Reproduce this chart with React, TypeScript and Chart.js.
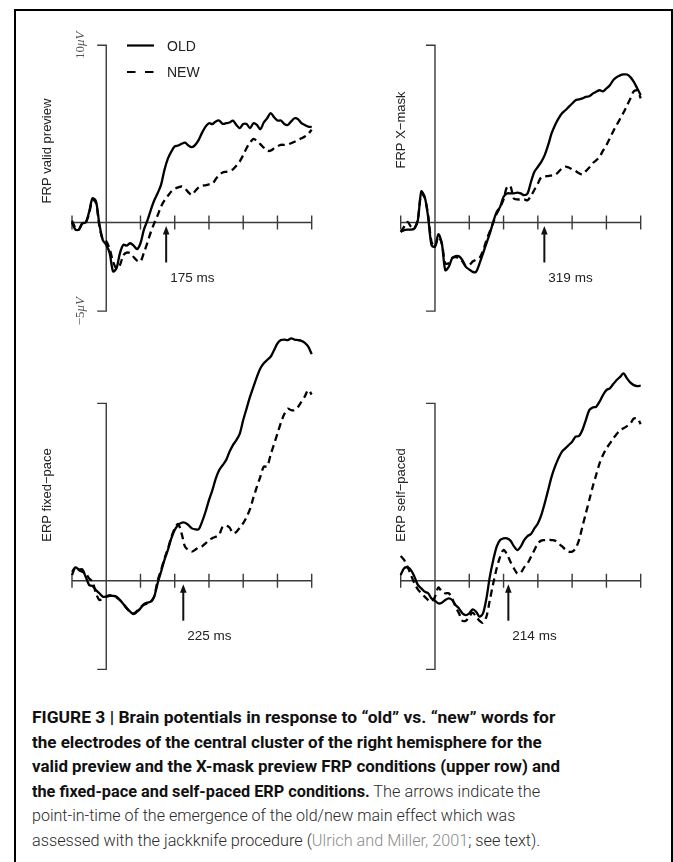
import React, { useEffect, useLayoutEffect, useRef } from "react";
import { Chart, registerables } from "chart.js";

Chart.register(...registerables);

// ---------- data ----------
const TIMES = [
  -100, -90, -80, -70, -60, -50, -40, -30, -20, -10,
  0, 10, 20, 30, 40, 50, 60, 70, 80, 90,
  100, 110, 120, 130, 140, 150, 160, 170, 180, 190,
  200, 210, 220, 230, 240, 250, 260, 270, 280, 290,
  300, 310, 320, 330, 340, 350, 360, 370, 380, 390,
  400, 410, 420, 430, 440, 450, 460, 470, 480, 490,
  500, 510, 520, 530, 540, 550, 560, 570, 580, 590,
  600,
];

const X_TICKS = [-100, 0, 100, 200, 300, 400, 500, 600];
const X_MIN = -100;
const X_MAX = 600;
const Y_AXIS_TOP = 10;
const Y_AXIS_BOTTOM = -5;
const Y_TOP_LABEL = "10";
const Y_BOTTOM_LABEL = "\u22125";
const Y_UNIT = "\u03bcV";

const SERIES_NAMES = ["OLD", "NEW"];
const PANEL_TITLES = ["FRP valid preview", "FRP X\u2212mask", "ERP fixed\u2212pace", "ERP self\u2212paced"];
const ONSETS = [175, 319, 225, 214];
const ONSET_LABELS = ["175 ms", "319 ms", "225 ms", "214 ms"];

const P1_OLD = [
  0.0, -0.4, -0.4, -0.05, 0.0, 0.6, 1.37, 1.2, -0.1, -1.0,
  -1.26, -1.73, -2.76, -2.58, -1.73, -1.26, -1.3, -1.17, -1.3, -1.5,
  -1.17, -0.4, 0.1, 0.7, 1.24, 1.65, 2.12, 2.97, 3.6, 4.0,
  4.29, 4.34, 4.44, 4.5, 4.34, 4.25, 4.38, 4.66, 5.07, 5.41,
  5.6, 5.55, 5.7, 5.75, 5.56, 5.6, 5.64, 5.75, 5.5, 5.32,
  5.55, 5.55, 5.32, 5.6, 5.5, 5.26, 5.64, 5.88, 6.17, 5.94,
  5.75, 5.75, 5.56, 5.5, 5.7, 5.88, 5.83, 5.6, 5.5, 5.41,
  5.38,
];
const P1_NEW = [
  0.1, -0.3, -0.4, -0.05, 0.0, 0.5, 1.3, 1.1, -0.2, -0.95,
  -1.05, -1.5, -2.2, -2.6, -2.4, -1.85, -1.7, -1.73, -1.95, -2.15,
  -2.2, -1.7, -1.15, -0.55, -0.05, 0.4, 0.9, 1.25, 1.5, 1.75,
  1.9, 1.98, 2.03, 1.92, 1.7, 1.56, 1.78, 1.98, 2.07, 2.1,
  2.15, 2.18, 2.45, 2.68, 2.82, 2.86, 2.9, 3.0, 3.2, 3.45,
  3.8, 4.2, 4.5, 4.72, 4.6, 4.42, 4.22, 4.05, 4.05, 4.18,
  4.3, 4.38, 4.38, 4.4, 4.47, 4.55, 4.66, 4.75, 4.85, 5.0,
  5.23,
];
const P2_OLD = [
  -0.53, -0.43, -0.4, -0.4, -0.34, 0.13, 1.75, 1.45, 0.3, -1.28,
  -1.37, -0.66, -1.18, -2.69, -2.5, -2.03, -1.9, -1.9, -2.12, -2.5,
  -2.65, -2.78, -2.78, -2.31, -1.75, -1.18, -0.62, 0.04, 0.6, 0.88,
  1.45, 1.64, 1.64, 1.64, 1.69, 1.64, 1.54, 1.64, 2.29, 2.86,
  3.14, 3.42, 3.8, 4.36, 5.02, 5.49, 5.86, 6.15, 6.33, 6.52,
  6.71, 6.9, 6.94, 7.0, 7.09, 7.12, 7.27, 7.37, 7.46, 7.4,
  7.56, 7.74, 8.03, 8.2, 8.3, 8.35, 8.35, 8.2, 7.93, 7.56,
  7.18,
];
const P2_NEW = [
  -0.53, -0.24, 0.04, -0.24, -0.34, 0.2, 1.6, 1.4, 0.4, -1.1,
  -1.35, -0.8, -1.2, -2.3, -2.3, -2.0, -1.95, -2.0, -2.2, -2.45,
  -2.4, -2.2, -2.1, -2.0, -1.6, -1.0, -0.5, 0.0, 0.5, 0.85,
  1.3, 2.0, 2.05, 1.35, 1.3, 1.3, 1.3, 1.25, 1.5, 1.85,
  2.2, 2.55, 2.6, 2.62, 2.65, 2.68, 2.85, 3.05, 3.15, 3.1,
  3.0, 2.9, 2.78, 2.72, 2.9, 3.1, 3.35, 3.5, 3.7, 4.05,
  4.36, 4.75, 5.15, 5.5, 5.85, 6.2, 6.6, 7.0, 7.4, 7.45,
  7.0,
];
const P3_OLD = [
  0.5, 0.75, 0.64, 0.64, 0.22, -0.24, -0.3, -0.53, -0.71, -0.9,
  -0.9, -0.86, -0.86, -0.9, -1.09, -1.32, -1.56, -1.75, -1.88, -1.75,
  -1.56, -1.32, -1.24, -1.18, -0.9, -0.15, 0.5, 1.17, 1.73, 2.39,
  2.86, 3.14, 3.27, 3.27, 3.14, 2.95, 2.9, 2.9, 3.33, 3.89,
  4.55, 5.11, 5.77, 6.24, 6.52, 6.8, 7.27, 7.65, 7.93, 8.3,
  9.06, 9.72, 10.38, 10.94, 11.5, 11.97, 12.26, 12.45, 12.63, 13.0,
  13.38, 13.57, 13.6, 13.57, 13.67, 13.6, 13.57, 13.53, 13.42, 13.2,
  12.78,
];
const P3_NEW = [
  0.32, 0.75, 0.6, 0.5, 0.41, 0.13, -0.06, -0.71, -1.09, -1.0,
  -0.9, -0.81, -0.9, -0.95, -1.1, -1.3, -1.55, -1.75, -1.85, -1.7,
  -1.5, -1.35, -1.3, -1.2, -0.9, 0.0, 0.6, 1.25, 1.8, 2.45,
  2.95, 3.2, 2.67, 1.92, 1.73, 1.64, 1.75, 1.88, 1.95, 2.1,
  2.3, 2.4, 2.48, 2.6, 3.05, 3.1, 3.0, 2.68, 2.75, 3.0,
  3.25, 3.6, 4.05, 4.7, 5.3, 5.86, 6.43, 6.45, 7.1, 7.7,
  8.3, 8.9, 9.4, 9.7, 9.62, 9.62, 9.8, 10.1, 10.4, 10.75,
  10.5,
];
const P4_OLD = [
  0.32, 0.7, 0.75, 0.6, 0.23, -0.24, -0.43, -0.62, -0.71, -1.0,
  -1.13, -1.28, -1.24, -1.09, -1.0, -1.09, -1.37, -1.56, -1.84, -1.94,
  -1.84, -1.62, -1.75, -2.03, -1.84, -1.0, 0.23, 1.17, 1.92, 2.29,
  2.39, 2.39, 2.26, 1.95, 1.73, 1.92, 2.29, 2.52, 2.63, 2.95,
  3.23, 3.7, 4.36, 5.11, 5.86, 6.43, 6.9, 7.27, 7.46, 7.65,
  7.84, 8.12, 8.16, 8.5, 9.06, 9.62, 9.77, 9.81, 10.1, 10.47,
  10.75, 10.85, 11.09, 11.32, 11.5, 11.69, 11.41, 11.17, 11.03, 10.98,
  11.0,
];
const P4_NEW = [
  1.39, 1.17, 0.79, 0.32, -0.15, -0.49, -0.71, -0.9, -1.09, -1.18,
  -0.9, -0.38, -0.62, -0.71, -0.71, -1.0, -1.47, -1.84, -2.26, -2.26,
  -2.03, -1.8, -2.03, -2.26, -2.37, -2.03, -1.09, -0.15, 0.7, 1.35,
  1.73, 1.5, 1.07, 0.7, 0.41, 0.45, 0.75, 0.98, 1.35, 1.73,
  2.1, 2.26, 2.29, 2.33, 2.29, 2.26, 2.1, 1.95, 1.77, 1.64,
  1.64, 1.82, 2.29, 3.05, 3.8, 4.55, 5.3, 5.96, 6.62, 7.09,
  7.46, 7.74, 8.03, 8.27, 8.5, 8.6, 8.72, 8.87, 9.15, 9.15,
  8.83,
];

// ---------- caption text ----------
const CAPTION: [string, string][][] = [
  [["b", "FIGURE 3 | Brain potentials in response to \u201cold\u201d vs. \u201cnew\u201d words for"]],
  [["b", "the electrodes of the central cluster of the right hemisphere for the"]],
  [["b", "valid preview and the X-mask preview FRP conditions (upper row) and"]],
  [["b", "the fixed-pace and self-paced ERP conditions."], ["r", " The arrows indicate the"]],
  [["r", "point-in-time of the emergence of the old/new main effect which was"]],
  [["r", "assessed with the jackknife procedure ("], ["g", "Ulrich and Miller, 2001"], ["r", "; see text)."]],
];
const CAPTION_WIDTHS = [523, 510, 528, 508, 483, 508];

// ---------- layout ----------
const PX_PER_UV = 17.73;
const SANS = "'Liberation Sans', Arial, sans-serif";
const SERIF = "'Liberation Serif', 'DejaVu Serif', serif";

type PanelCfg = {
  title: string;
  oldV: number[];
  newV: number[];
  onset: number;
  onsetLabel: string;
  box: { l: number; t: number; w: number; h: number };
  plotL: number;
  plotR: number;
  zeroY: number;
  yMin: number;
  yMax: number;
  titleX: number;
  titleY: number;
  legend: boolean;
  units: boolean;
};

const PANELS: PanelCfg[] = [
  {
    title: PANEL_TITLES[0], oldV: P1_OLD, newV: P1_NEW, onset: ONSETS[0], onsetLabel: ONSET_LABELS[0],
    box: { l: 16, t: 11, w: 322, h: 320 }, plotL: 72, plotR: 311.7, zeroY: 222.5, yMin: -5, yMax: 10,
    titleX: 46, titleY: 151, legend: true, units: true,
  },
  {
    title: PANEL_TITLES[1], oldV: P2_OLD, newV: P2_NEW, onset: ONSETS[1], onsetLabel: ONSET_LABELS[1],
    box: { l: 340, t: 11, w: 330, h: 320 }, plotL: 400.7, plotR: 640.7, zeroY: 222.5, yMin: -5, yMax: 10,
    titleX: 400, titleY: 130, legend: false, units: false,
  },
  {
    title: PANEL_TITLES[2], oldV: P3_OLD, newV: P3_NEW, onset: ONSETS[2], onsetLabel: ONSET_LABELS[2],
    box: { l: 16, t: 331, w: 322, h: 360 }, plotL: 72, plotR: 311.7, zeroY: 580.7, yMin: -5, yMax: 14,
    titleX: 46, titleY: 495, legend: false, units: false,
  },
  {
    title: PANEL_TITLES[3], oldV: P4_OLD, newV: P4_NEW, onset: ONSETS[3], onsetLabel: ONSET_LABELS[3],
    box: { l: 340, t: 331, w: 330, h: 360 }, plotL: 400.7, plotR: 640.7, zeroY: 580.7, yMin: -5, yMax: 14,
    titleX: 400, titleY: 495, legend: false, units: false,
  },
];

function drawRotated(ctx: CanvasRenderingContext2D, parts: { text: string; font: string }[], cx: number, cy: number, color: string, capH: number) {
  ctx.save();
  ctx.translate(cx, cy);
  ctx.rotate(-Math.PI / 2);
  ctx.fillStyle = color;
  ctx.textBaseline = "alphabetic";
  ctx.textAlign = "left";
  let total = 0;
  for (const p of parts) {
    ctx.font = p.font;
    total += ctx.measureText(p.text).width;
  }
  let x = -total / 2;
  for (const p of parts) {
    ctx.font = p.font;
    ctx.fillText(p.text, x, capH / 2);
    x += ctx.measureText(p.text).width;
  }
  ctx.restore();
}

function makeDecor(p: PanelCfg) {
  return {
    id: "decor",
    beforeDatasetsDraw(chart: any) {
      const ctx: CanvasRenderingContext2D = chart.ctx;
      const xs = chart.scales.x;
      const ys = chart.scales.y;
      const y0 = ys.getPixelForValue(0);
      const x0 = xs.getPixelForValue(0);
      ctx.save();
      ctx.strokeStyle = "#3a3a3a";
      ctx.lineWidth = 1.4;
      ctx.beginPath();
      ctx.moveTo(xs.getPixelForValue(X_MIN), y0);
      ctx.lineTo(xs.getPixelForValue(X_MAX), y0);
      for (const t of X_TICKS) {
        const px = xs.getPixelForValue(t);
        ctx.moveTo(px, y0 - 7);
        ctx.lineTo(px, y0 + 7);
      }
      const yt = ys.getPixelForValue(Y_AXIS_TOP);
      const yb = ys.getPixelForValue(Y_AXIS_BOTTOM);
      ctx.moveTo(x0 - 9, yt);
      ctx.lineTo(x0, yt);
      ctx.lineTo(x0, yb);
      ctx.lineTo(x0 - 9, yb);
      ctx.stroke();
      ctx.restore();
    },
    afterDatasetsDraw(chart: any) {
      const ctx: CanvasRenderingContext2D = chart.ctx;
      const xs = chart.scales.x;
      const ys = chart.scales.y;
      const y0 = ys.getPixelForValue(0);
      const ox = p.box.l;
      const oy = p.box.t;
      // onset arrow
      const ax = xs.getPixelForValue(p.onset);
      ctx.save();
      ctx.strokeStyle = "#111";
      ctx.fillStyle = "#111";
      ctx.lineWidth = 2;
      ctx.beginPath();
      ctx.moveTo(ax, y0 + 10);
      ctx.lineTo(ax, y0 + 40);
      ctx.stroke();
      ctx.beginPath();
      ctx.moveTo(ax, y0 + 3.5);
      ctx.lineTo(ax - 3.3, y0 + 12);
      ctx.lineTo(ax + 3.3, y0 + 12);
      ctx.closePath();
      ctx.fill();
      ctx.font = `13.5px ${SANS}`;
      ctx.fillStyle = "#222";
      ctx.textAlign = "left";
      ctx.textBaseline = "alphabetic";
      ctx.fillText(p.onsetLabel, ax + 4, y0 + 59);
      ctx.restore();

      // panel title
      drawRotated(ctx, [{ text: p.title, font: `13px ${SANS}` }], p.titleX - ox, p.titleY - oy, "#222", 9.3);

      if (p.units) {
        const x0 = xs.getPixelForValue(0);
        const ux = x0 - 27;
        drawRotated(ctx, [
          { text: Y_TOP_LABEL, font: `13px ${SERIF}` },
          { text: Y_UNIT, font: `italic 13px ${SERIF}` },
        ], ux, ys.getPixelForValue(Y_AXIS_TOP), "#555", 8.6);
        drawRotated(ctx, [
          { text: Y_BOTTOM_LABEL, font: `13px ${SERIF}` },
          { text: Y_UNIT, font: `italic 13px ${SERIF}` },
        ], ux, ys.getPixelForValue(Y_AXIS_BOTTOM), "#555", 8.6);
      }

      if (p.legend) {
        const lx1 = 127 - ox;
        const lx2 = 154 - ox;
        const ly1 = 45.5 - oy;
        const ly2 = 72 - oy;
        ctx.save();
        ctx.strokeStyle = "#000";
        ctx.lineWidth = 2.2;
        ctx.beginPath();
        ctx.moveTo(lx1, ly1);
        ctx.lineTo(lx2, ly1);
        ctx.stroke();
        ctx.setLineDash([8.5, 9.5]);
        ctx.beginPath();
        ctx.moveTo(lx1, ly2);
        ctx.lineTo(lx2 + 1, ly2);
        ctx.stroke();
        ctx.setLineDash([]);
        ctx.font = `14px ${SANS}`;
        ctx.fillStyle = "#222";
        ctx.textBaseline = "alphabetic";
        ctx.fillText(SERIES_NAMES[0], 167 - ox, ly1 + 5);
        ctx.fillText(SERIES_NAMES[1], 167 - ox, ly2 + 5);
        ctx.restore();
      }
    },
  };
}

function Panel({ p }: { p: PanelCfg }) {
  const ref = useRef<HTMLCanvasElement | null>(null);
  useEffect(() => {
    const canvas = ref.current;
    if (!canvas) return;
    const topPx = p.zeroY - p.yMax * PX_PER_UV;
    const botPx = p.zeroY - p.yMin * PX_PER_UV;
    const padding = {
      left: p.plotL - p.box.l,
      right: p.box.l + p.box.w - p.plotR,
      top: topPx - p.box.t,
      bottom: p.box.t + p.box.h - botPx,
    };
    const chart = new Chart(canvas, {
      type: "line",
      data: {
        datasets: [
          {
            label: SERIES_NAMES[0],
            data: TIMES.map((t, i) => ({ x: t, y: p.oldV[i] })),
            borderColor: "#000",
            borderWidth: 2.3,
            pointRadius: 0,
            tension: 0.3,
            fill: false,
            clip: false as any,
          },
          {
            label: SERIES_NAMES[1],
            data: TIMES.map((t, i) => ({ x: t, y: p.newV[i] })),
            borderColor: "#000",
            borderWidth: 2.3,
            borderDash: [7, 4.5],
            pointRadius: 0,
            tension: 0.3,
            fill: false,
            clip: false as any,
          },
        ],
      },
      options: {
        responsive: false,
        maintainAspectRatio: false,
        animation: false,
        events: [],
        layout: { padding },
        scales: {
          x: { type: "linear", min: X_MIN, max: X_MAX, display: false },
          y: { type: "linear", min: p.yMin, max: p.yMax, display: false },
        },
        plugins: { legend: { display: false }, tooltip: { enabled: false } },
      },
      plugins: [makeDecor(p)],
    } as any);
    return () => chart.destroy();
  }, [p]);
  return (
    <canvas
      ref={ref}
      width={p.box.w}
      height={p.box.h}
      style={{ position: "absolute", left: p.box.l, top: p.box.t, width: p.box.w, height: p.box.h }}
    />
  );
}

function CaptionLine({ parts, width, top }: { parts: [string, string][]; width: number; top: number }) {
  const ref = useRef<HTMLSpanElement | null>(null);
  useLayoutEffect(() => {
    const el = ref.current;
    if (!el) return;
    const w = el.offsetWidth;
    if (w > 0) el.style.transform = `scaleX(${width / w})`;
  }, [width]);
  return (
    <div style={{ position: "absolute", left: 32, top, height: 24, lineHeight: "24px", whiteSpace: "nowrap" }}>
      <span
        ref={ref}
        style={{
          display: "inline-block",
          transformOrigin: "0 50%",
          fontFamily: "Roboto, 'Liberation Sans', sans-serif",
          fontSize: "16.5px",
        }}
      >
        {parts.map(([k, t], i) => (
          <span
            key={i}
            style={{
              fontWeight: k === "b" ? 700 : 300,
              color: k === "b" ? "#111" : k === "g" ? "#8c8c8c" : "#2a2a2a",
            }}
          >
            {t}
          </span>
        ))}
      </span>
    </div>
  );
}

export default function App() {
  return (
    <div style={{ position: "absolute", left: 0, top: 0, width: 673, height: 862, background: "#fff", overflow: "hidden" }}>
      <div
        style={{
          position: "absolute",
          left: 14,
          top: 9,
          width: 659,
          height: 900,
          boxSizing: "border-box",
          borderLeft: "2px solid #000",
          borderTop: "2px solid #000",
          borderRight: "2px solid #000",
        }}
      />
      {PANELS.map((p, i) => (
        <Panel key={i} p={p} />
      ))}
      {CAPTION.map((parts, i) => (
        <CaptionLine key={i} parts={parts} width={CAPTION_WIDTHS[i]} top={706 + i * 24.6} />
      ))}
    </div>
  );
}
